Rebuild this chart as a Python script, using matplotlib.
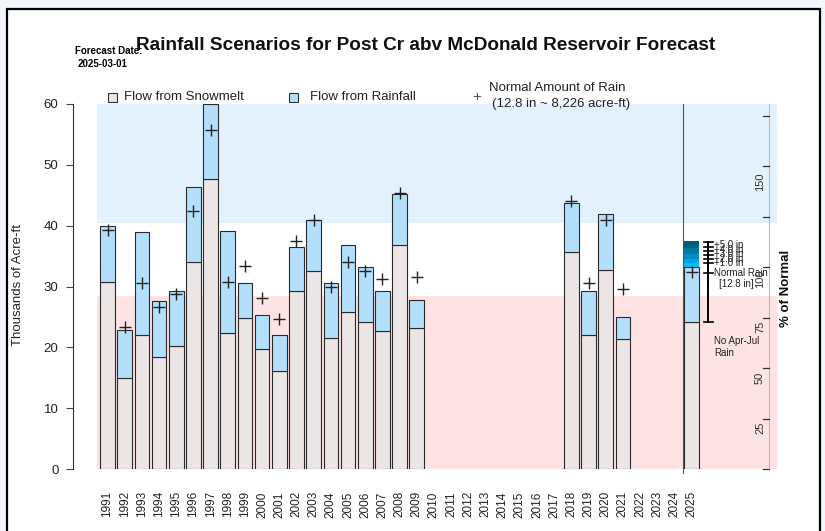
import matplotlib
matplotlib.use("Agg")
import matplotlib.pyplot as plt
from matplotlib.patches import Rectangle
import numpy as np

# ---------------- data ----------------
years = list(range(1991, 2026))
snowmelt = [30.8, 14.9, 22.1, 18.4, 20.3, 34.1, 47.6, 22.3, 24.9, 19.7,
            16.1, 29.2, 32.5, 21.6, 25.8, 24.2, 22.7, 36.9, 23.1,
            None, None, None, None, None, None, None, None,
            35.6, 22.1, 32.7, 21.3, None, None, None, 24.2]
total_flow = [40.0, 22.9, 38.9, 27.6, 29.2, 46.4, 60.0, 39.1, 30.6, 25.3,
              22.0, 36.5, 41.0, 30.6, 36.8, 33.2, 29.2, 45.2, 27.7,
              None, None, None, None, None, None, None, None,
              43.8, 29.3, 41.9, 25.0, None, None, None, 33.15]
normal_rain_pt = [39.3, 23.3, 30.5, 26.7, 28.7, 42.4, 55.8, 30.8, 33.4, 28.1,
                  24.6, 37.5, 40.9, 30.0, 34.1, 32.5, 31.2, 45.3, 31.5,
                  None, None, None, None, None, None, None, None,
                  44.1, 30.6, 41.0, 29.6, None, None, None, 32.4]

scen_labels = ["+1.0 in", "+2.0 in", "+3.0 in", "+4.0 in", "+5.0 in"]
scen_tops = [33.85, 34.6, 35.4, 36.3, 37.4]
scen_ticks = [33.8, 34.47, 35.17, 35.88, 36.54, 37.37]
scen_label_y = [33.9, 34.6, 35.35, 36.05, 36.8]
scen_colors = ["#14b7f0", "#00a4de", "#0090c4", "#0079a3", "#005f7e"]
no_rain_2025 = 24.2
normal_rain_2025 = 32.3

pct_ticks = [0, 25, 50, 75, 100, 125, 150, 175]
pct_labels_shown = [25, 50, 75, 100, 150]
pct_label_kaf = [6.7, 15.0, 23.3, 31.2, 47.2]
normal_kaf = 33.2

blue_band = (40.5, 60.0)
pink_band = (0.0, 28.5)

# ---------------- styling ----------------
FONT = "Liberation Sans"
plt.rcParams["font.family"] = [FONT, "DejaVu Sans"]
W, H = 825, 531
snow_c = "#ebe6e5"
rain_c = "#b3dffb"
blue_bg = "#e3f1fd"
pink_bg = "#fee3e4"
edge_c = "#2a2a2a"

fig = plt.figure(figsize=(W / 100, H / 100), dpi=100)
fig.patch.set_facecolor("#f3f6fb")

def fx(x):
    return x / W

def fy(y):
    return 1 - y / H

# white panel with black frame
fig.patches.append(Rectangle((fx(7), fy(545)), fx(820) - fx(7), fy(9) - fy(545),
                             transform=fig.transFigure, facecolor="white",
                             edgecolor="black", lw=1.6, zorder=-10))

x0px, dpx = 107.5, 17.18
def px2yr(x):
    return 1991 + (x - x0px) / dpx

ax = fig.add_axes([fx(73), fy(469), fx(777) - fx(73), fy(104) - fy(469)])
ax.set_facecolor("none")
xl = (px2yr(73), px2yr(777))
ax.set_xlim(*xl)
ax.set_ylim(0, 60)

band_x0 = px2yr(97)
ax.add_patch(Rectangle((band_x0, blue_band[0]), xl[1] - band_x0, blue_band[1] - blue_band[0],
                       facecolor=blue_bg, edgecolor="none", zorder=0))
ax.add_patch(Rectangle((band_x0, pink_band[0]), xl[1] - band_x0, pink_band[1] - pink_band[0],
                       facecolor=pink_bg, edgecolor="none", zorder=0))

bw = 0.85
for yr, s, t in zip(years, snowmelt, total_flow):
    if s is None:
        continue
    ax.bar(yr, s, width=bw, color=snow_c, edgecolor=edge_c, lw=0.8, zorder=2)
    ax.bar(yr, t - s, bottom=s, width=bw, color=rain_c, edgecolor=edge_c, lw=0.8, zorder=2)

# 2025 scenario segments
prev = total_flow[-1]
for top, c in zip(scen_tops, scen_colors):
    ax.bar(2025, top - prev, bottom=prev, width=bw, color=c, edgecolor="none", lw=0, zorder=3)
    prev = top

# normal rain markers
px_ = [y for y, v in zip(years, normal_rain_pt) if v is not None]
pv_ = [v for v in normal_rain_pt if v is not None]
ax.plot(px_, pv_, linestyle="none", marker="+", markersize=9, mew=1.0, color="#222222", zorder=4)

# vertical separator
ax.plot([2024.5, 2024.5], [-0.7, 60], color="#555555", lw=0.8, clip_on=False, zorder=4)

# scenario error bar
xe = px2yr(708.3)
xt0, xt1 = px2yr(704), px2yr(712.5)
ax.plot([xe, xe], [no_rain_2025, scen_ticks[-1]], color="black", lw=1.4, zorder=5, clip_on=False)
for v in scen_ticks + [normal_rain_2025, no_rain_2025]:
    ax.plot([xt0, xt1], [v, v], color="black", lw=1.2, zorder=5, clip_on=False)
xlab = px2yr(714)
for lab, v in zip(scen_labels, scen_label_y):
    ax.text(xlab, v, lab, fontsize=7, ha="left", va="center", color="#222222", zorder=6)
ax.text(xlab, normal_rain_2025, "Normal Rain", fontsize=7, ha="left", va="center", color="#222222", zorder=6)
ax.text(px2yr(719), normal_rain_2025 - 1.9, "[12.8 in]", fontsize=7, ha="left", va="center", color="#222222", zorder=6)
ax.text(xlab, 21.8, "No Apr-Jul\nRain", fontsize=7, ha="left", va="top", color="#222222",
        linespacing=1.25, zorder=6)

# left axis
for s in ["top", "right", "bottom"]:
    ax.spines[s].set_visible(False)
ax.spines["left"].set_bounds(0, 60)
ax.spines["left"].set_color("#333333")
ax.spines["left"].set_linewidth(0.8)
ax.set_yticks(range(0, 61, 10))
ax.tick_params(axis="y", direction="out", length=5, width=0.8, color="#444444",
               pad=5.5, labelsize=9.5, labelcolor="#222222")
fig.text(fx(18), fy(285), "Thousands of Acre-ft", rotation=90, fontsize=9.5, color="#222222",
         ha="center", va="center")

# x axis labels
ax.set_xticks(years)
ax.set_xticklabels([str(y) for y in years], rotation=90, fontsize=8.5, color="#222222")
ax.tick_params(axis="x", length=0, pad=16)

# right axis (% of normal)
xr = px2yr(769)
ax.plot([xr, xr], [0, 60], color="#bbbbbb", lw=0.8, zorder=4, clip_on=False)
xr_t = px2yr(763)
for p in pct_ticks:
    v = p * normal_kaf / 100
    ax.plot([xr_t, xr], [v, v], color="#333333", lw=0.9, zorder=5, clip_on=False)
for p, v in zip(pct_labels_shown, pct_label_kaf):
    ax.text(px2yr(760), v, str(p), rotation=90, fontsize=8,
            ha="center", va="center", color="#333333", zorder=6)

fig.text(fx(786), fy(288), "% of Normal", rotation=90, fontsize=9.5, fontweight="bold",
         ha="center", va="center", color="#111111")

# title & forecast date
fig.text(fx(426), fy(45), "Rainfall Scenarios for Post Cr abv McDonald Reservoir Forecast",
         fontsize=13.7, fontweight="bold", ha="center", va="center", color="#111111")
fig.text(fx(75), fy(51), "Forecast Date:", fontsize=7, fontweight="bold", ha="left", va="center")
fig.text(fx(78), fy(64), "2025-03-01", fontsize=7, fontweight="bold", ha="left", va="center")

# legend
def square(x, y, c):
    fig.patches.append(Rectangle((fx(x - 4.5), fy(y + 4.5)), 9 / W, 9 / H, transform=fig.transFigure,
                                 facecolor=c, edgecolor="#333333", lw=0.8))
square(113, 97, snow_c)
fig.text(fx(124), fy(97), "Flow from Snowmelt", fontsize=9.5, ha="left", va="center", color="#222222")
square(293, 97, rain_c)
fig.text(fx(310), fy(97), "Flow from Rainfall", fontsize=9.5, ha="left", va="center", color="#222222")
fig.text(fx(477), fy(97), "+", fontsize=11, ha="center", va="center", color="#555555")
fig.text(fx(489), fy(88), "Normal Amount of Rain", fontsize=9.5, ha="left", va="center", color="#222222")
fig.text(fx(492), fy(104), "(12.8 in ~ 8,226 acre-ft)", fontsize=9.5, ha="left", va="center", color="#222222")

fig.savefig("out.png", dpi=100, facecolor=fig.get_facecolor())
